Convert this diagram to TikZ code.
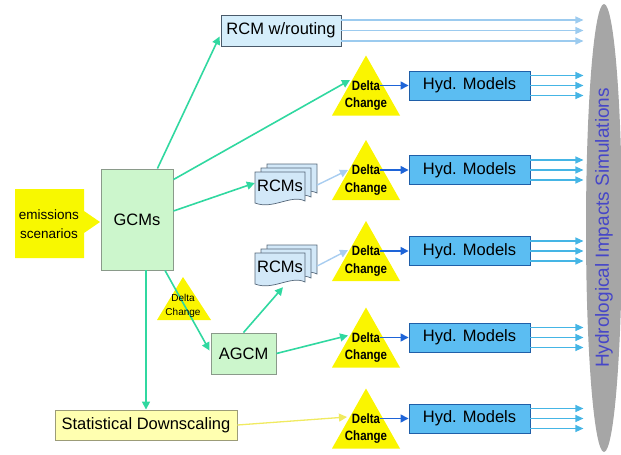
\documentclass[tikz,border=0pt]{standalone}
\usepackage{fontspec}
\usepackage{graphicx}
\setmainfont{Liberation Sans}
\usetikzlibrary{arrows.meta,calc,shapes.geometric}
\definecolor{mint}{HTML}{30D8A0}
\definecolor{gcmfill}{HTML}{CCF6CC}
\definecolor{gcmborder}{HTML}{8A9A8A}
\definecolor{rcmfill}{HTML}{D5EEFB}
\definecolor{rcmborder}{HTML}{4A5A6A}
\definecolor{hydfill}{HTML}{5BBDF2}
\definecolor{hydborder}{HTML}{1F5FA8}
\definecolor{outblue}{HTML}{45B5E5}
\definecolor{topout}{HTML}{9CCBEF}
\definecolor{paleblue}{HTML}{A8CDF0}
\definecolor{darkblue}{HTML}{1E64D8}
\definecolor{statfill}{HTML}{FFFFB0}
\definecolor{statborder}{HTML}{9C9C78}
\definecolor{triyellow}{HTML}{FAF500}
\definecolor{emyellow}{HTML}{F8F800}
\definecolor{statline}{HTML}{F0EA60}
\definecolor{ellgray}{HTML}{A6A6A6}
\definecolor{simtext}{HTML}{4646C8}
\definecolor{docfill}{HTML}{D2E8F8}
\definecolor{docborder}{HTML}{56687A}
\begin{document}
\begin{tikzpicture}[x=1pt,y=-1pt,
  bigf/.style={font=\fontsize{16.5}{19}\selectfont},
  gbox/.style={draw=gcmborder, fill=gcmfill, line width=0.9pt, inner sep=0pt, bigf},
  rbox/.style={draw=rcmborder, fill=rcmfill, line width=0.9pt, inner sep=0pt, bigf},
  hyd/.style={draw=hydborder, fill=hydfill, line width=0.9pt, inner sep=0pt, bigf,
    minimum width=121pt, minimum height=29pt},
  sbox/.style={draw=statborder, fill=statfill, line width=0.9pt, inner sep=0pt, bigf},
  dfont/.style={inner sep=0pt, font=\fontsize{13.5}{14}\bfseries},
  sdfont/.style={inner sep=0pt, font=\fontsize{10}{11}\selectfont},
  gconn/.style={draw=mint, line width=1.6pt, -{Triangle[length=8pt,width=8pt]}},
  pconn/.style={draw=paleblue, line width=1.4pt, -{Triangle[length=8pt,width=8pt]}},
  yconn/.style={draw=statline, line width=1.3pt, -{Triangle[length=8pt,width=8pt]}},
  bconn/.style={draw=darkblue, line width=1.4pt, -{Triangle[length=8pt,width=8pt]}},
  outarr/.style={draw=outblue, line width=1.1pt, -{Triangle[length=8pt,width=7pt]}},
  toparr/.style={draw=topout, line width=1.1pt, -{Triangle[length=8pt,width=7pt]}},
  docpage/.style={fill=docfill, draw=docborder, line width=0.7pt},
  tri/.style={fill=triyellow}
]
\useasboundingbox (0,0) rectangle (621,455);

% simulations ellipse
\node[ellipse, rotate=90, fill=ellgray, minimum width=448pt, minimum height=36pt,
  inner sep=0pt, text=simtext, font=\fontsize{19}{20}\selectfont] (sim) at (604,228)
  {Hydrological Impacts Simulations};

% emissions scenarios
\fill[emyellow] (15,189) -- (84,189) -- (84,211) -- (100,222) -- (84,233) -- (84,258) -- (15,258) -- cycle;
\node[font=\fontsize{13.5}{19}\selectfont, align=center, inner sep=0pt] (em) at (49,224.5) {emissions\\scenarios};

% main boxes
\node[gbox, minimum width=72pt, minimum height=101pt] (gcm) at (137,219.5) {GCMs};
\node[rbox, minimum width=120pt, minimum height=31pt] (rr) at (281,30.5) {RCM w/routing};
\node[gbox, minimum width=65pt, minimum height=41pt] (ag) at (243.5,353.5) {AGCM};
\node[sbox, minimum width=182pt, minimum height=30pt] (stat) at (146,425) {Statistical Downscaling};

% document stacks
\foreach \dx/\dy in {12/-8, 6/-4, 0/0} {
  \begin{scope}[shift={(255+\dx,172+\dy)}]
    \filldraw[docpage] (0,0) -- (50,0) -- (50,29) .. controls (36,22) and (18,38) .. (0,31) -- cycle;
  \end{scope}
  \begin{scope}[shift={(255+\dx,253+\dy)}]
    \filldraw[docpage] (0,0) -- (50,0) -- (50,29) .. controls (36,22) and (18,38) .. (0,31) -- cycle;
  \end{scope}
}
\node[bigf, inner sep=0pt, minimum width=50pt, minimum height=30pt] (r2) at (280,186) {RCMs};
\node[bigf, inner sep=0pt, minimum width=50pt, minimum height=30pt] (r3) at (280,267) {RCMs};

% delta change triangles, hydrological models, outputs
\foreach \i/\y in {1/85.5, 2/170, 3/251, 4/337.5, 5/418.5} {
  \fill[tri] (366,\y-30) -- (400,\y+30) -- (332,\y+30) -- cycle;
  \node[dfont] (dl\i) at (366,\y) {\scalebox{0.85}[1]{Delta}};
  \node[dfont] (ch\i) at (366,\y+19) {\scalebox{0.85}[1]{Change}};
  \node[hyd] (h\i) at (469.5,\y) {Hyd. Models};
  \draw[bconn] (dl\i.east) -- (h\i.west);
  \foreach \o in {-10,0,10} {
    \draw[outarr] ($(h\i.east)+(0,\o)$) -- ($(h\i.east)+(53,\o)$);
  }
}
\coordinate (in1) at (350,80);
\coordinate (in2) at (348,170);
\coordinate (in3) at (348,250);
\coordinate (in4) at (348,335.5);
\coordinate (in5) at (347,417);

% RCM w/routing outputs
\foreach \o in {-10.5,0,10.5} {
  \draw[toparr] ($(rr.east)+(0,\o)$) -- ($(rr.east)+(242,\o)$);
}

% small delta change
\fill[tri] (183,277) -- (211,320) -- (157,320) -- cycle;
\draw[gconn] ($(gcm.south)+(28,0)$) -- ($(ag.west)+(-1,-3)$);
\node[sdfont] (sdl) at (183,298) {Delta};
\node[sdfont] (sch) at (183,313) {Change};

% green connectors
\draw[gconn] ($(gcm.north west)!0.78!(gcm.north east)$) -- ($(rr.west)+(-1,6)$);
\draw[gconn] ($(gcm.north east)+(0,11)$) -- (in1);
\draw[gconn] ($(gcm.east)+(0,-8.5)$) -- ($(r2.west)+(0,-3)$);
\draw[gconn] (stat.north |- gcm.south) -- (stat.north);
\draw[gconn] (ag.north) -- ($(r3.south)+(3,5)$);
\draw[gconn] (ag.east) -- (in4);

% pale blue and yellow connectors
\draw[pconn] ($(r2.east)+(12,-1)$) -- (in2);
\draw[pconn] ($(r3.east)+(12,-1)$) -- (in3);
\draw[yconn] (stat.east) -- (in5);
\end{tikzpicture}
\end{document}
